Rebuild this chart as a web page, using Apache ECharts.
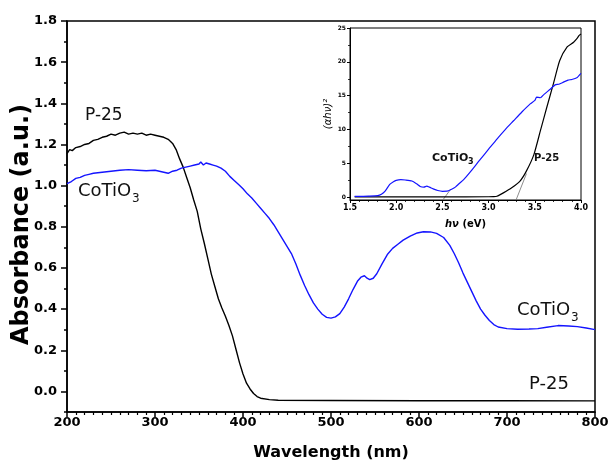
<!DOCTYPE html>
<html>
<head>
<meta charset="utf-8">
<script src="https://cdn.jsdelivr.net/npm/echarts@6/dist/echarts.min.js"></script>
<style>
  html, body { margin: 0; padding: 0; background: #fff; }
  #main { width: 609px; height: 463px; }
</style>
</head>
<body>
<div id="main"></div>
<script>
// UV-vis absorbance, P-25 vs CoTiO3, with Tauc plot inset
var p25Wl = [200, 203, 206, 210, 215, 220, 225, 230, 235, 240, 245, 250, 255, 260, 265, 270, 275, 280, 285, 290, 295, 300, 305, 310, 315, 320, 324, 328, 332, 336, 340, 344, 348, 352, 356, 360, 364, 368, 372, 376, 380, 384, 388, 392, 396, 400, 404, 408, 412, 416, 420, 430, 440, 500, 600, 700, 800];
var p25Abs = [1.155, 1.175, 1.17, 1.185, 1.19, 1.2, 1.205, 1.22, 1.225, 1.235, 1.24, 1.25, 1.245, 1.255, 1.26, 1.25, 1.255, 1.25, 1.255, 1.245, 1.25, 1.245, 1.24, 1.235, 1.225, 1.205, 1.175, 1.13, 1.09, 1.04, 0.99, 0.93, 0.875, 0.79, 0.72, 0.645, 0.57, 0.51, 0.45, 0.405, 0.365, 0.32, 0.27, 0.205, 0.14, 0.085, 0.04, 0.012, -0.01, -0.025, -0.033, -0.04, -0.043, -0.044, -0.045, -0.045, -0.046];

var coWl = [200, 205, 210, 215, 220, 225, 230, 240, 250, 260, 270, 280, 290, 300, 305, 310, 315, 320, 325, 330, 335, 340, 345, 350, 352, 355, 358, 362, 366, 370, 375, 380, 385, 390, 395, 400, 405, 410, 415, 420, 425, 430, 435, 440, 445, 450, 455, 460, 465, 470, 475, 480, 485, 490, 495, 500, 505, 510, 515, 520, 525, 530, 534, 538, 541, 544, 548, 552, 558, 564, 570, 576, 582, 590, 598, 605, 613, 620, 628, 635, 640, 645, 650, 655, 660, 665, 670, 675, 680, 685, 690, 700, 712, 725, 735, 745, 758, 770, 780, 790, 800];
var coAbs = [1.01, 1.02, 1.035, 1.04, 1.05, 1.055, 1.06, 1.065, 1.07, 1.075, 1.078, 1.075, 1.072, 1.075, 1.07, 1.065, 1.06, 1.07, 1.075, 1.085, 1.09, 1.095, 1.1, 1.105, 1.115, 1.1, 1.11, 1.105, 1.1, 1.095, 1.085, 1.07, 1.045, 1.025, 1.005, 0.985, 0.96, 0.94, 0.915, 0.89, 0.865, 0.84, 0.81, 0.775, 0.74, 0.705, 0.67, 0.62, 0.565, 0.515, 0.47, 0.43, 0.4, 0.375, 0.36, 0.356, 0.362, 0.378, 0.41, 0.45, 0.495, 0.535, 0.555, 0.562, 0.55, 0.543, 0.55, 0.572, 0.62, 0.665, 0.695, 0.715, 0.735, 0.755, 0.77, 0.776, 0.775, 0.768, 0.748, 0.71, 0.67, 0.625, 0.575, 0.53, 0.485, 0.44, 0.4, 0.37, 0.345, 0.325, 0.313, 0.305, 0.302, 0.303, 0.305, 0.312, 0.32, 0.318, 0.315, 0.308, 0.3];

// inset (Tauc plot)
var insCoEv = [1.55, 1.6, 1.7, 1.8, 1.84, 1.88, 1.93, 1.97, 2.0, 2.05, 2.1, 2.17, 2.22, 2.26, 2.3, 2.33, 2.36, 2.4, 2.45, 2.5, 2.55, 2.6, 2.64, 2.68, 2.73, 2.8, 2.91, 3.0, 3.09, 3.18, 3.27, 3.36, 3.45, 3.5, 3.52, 3.56, 3.6, 3.67, 3.72, 3.76, 3.81, 3.86, 3.9, 3.96, 3.98, 4.0];
var insCoVal = [0.15, 0.15, 0.18, 0.25, 0.45, 0.9, 1.9, 2.3, 2.5, 2.6, 2.55, 2.4, 2.0, 1.6, 1.5, 1.65, 1.5, 1.25, 1.0, 0.88, 0.9, 1.2, 1.5, 2.0, 2.6, 3.7, 5.6, 7.1, 8.6, 10.0, 11.3, 12.6, 13.8, 14.3, 14.8, 14.7, 15.2, 16.0, 16.6, 16.7, 17.0, 17.3, 17.4, 17.7, 18.0, 18.3];
var insP25Ev = [1.55, 2.0, 2.5, 3.0, 3.05, 3.09, 3.16, 3.25, 3.34, 3.41, 3.49, 3.56, 3.63, 3.7, 3.77, 3.85, 3.92, 3.96, 3.98, 4.0];
var insP25Val = [0.05, 0.05, 0.05, 0.08, 0.1, 0.15, 0.65, 1.4, 2.4, 3.9, 6.3, 9.8, 13.3, 16.7, 20.2, 22.2, 22.9, 23.5, 23.9, 24.1];
var tanCoEv = [2.51, 2.59], tanCoVal = [-0.3, 1.2];
var tanP25Ev = [3.30, 3.41], tanP25Val = [-0.3, 3.5];

var yMajor = [0, 0.2, 0.4, 0.6, 0.8, 1.0, 1.2, 1.4, 1.6, 1.8];
var yMinor = [-0.1, 0.1, 0.3, 0.5, 0.7, 0.9, 1.1, 1.3, 1.5, 1.7];
var insYMajor = [0, 5, 10, 15, 20, 25];
var insYMinor = [2.5, 7.5, 12.5, 17.5, 22.5];

function pairs(xs, ys) {
  var out = [];
  for (var i = 0; i < xs.length; i++) out.push([xs[i], ys[i]]);
  return out;
}

var FONT = 'DejaVu Sans';
var chart = echarts.init(document.getElementById('main'), null, { renderer: 'canvas' });

var option = {
  animation: false,
  backgroundColor: '#fff',
  grid: [
    { left: 67, right: 14, top: 21, bottom: 51, containLabel: false, outerBoundsMode: 'none',
      show: true, borderColor: '#000', borderWidth: 1.5, backgroundColor: 'transparent' },
    { left: 350, right: 28, top: 28, bottom: 263, containLabel: false, outerBoundsMode: 'none',
      show: true, borderColor: '#000', borderWidth: 1, backgroundColor: '#fff' }
  ],
  xAxis: [{
    gridIndex: 0, type: 'value', min: 200, max: 800, interval: 100, position: 'bottom',
    name: 'Wavelength (nm)', nameLocation: 'middle', nameGap: 33,
    nameTextStyle: { fontFamily: FONT, fontWeight: 'bold', fontSize: 16, color: '#000' },
    axisLine: { show: true, onZero: false, lineStyle: { color: '#000', width: 1.5 } },
    axisTick: { show: true, inside: false, length: 5, lineStyle: { color: '#000', width: 1.5 } },
    minorTick: { show: true, splitNumber: 10, length: 3, lineStyle: { color: '#000', width: 1.2 } },
    axisLabel: { fontFamily: FONT, fontWeight: 'bold', fontSize: 13, color: '#000', margin: 4 },
    splitLine: { show: false }
  }, {
    gridIndex: 1, type: 'value', min: 1.5, max: 4.0, interval: 0.5, position: 'bottom',
    name: '{i|hν} (eV)', nameLocation: 'middle', nameGap: 19,
    nameTextStyle: { fontFamily: FONT, fontWeight: 'bold', fontSize: 10, color: '#000',
      rich: { i: { fontFamily: FONT, fontWeight: 'bold', fontStyle: 'italic', fontSize: 10, color: '#000' } } },
    axisLine: { show: true, onZero: false, lineStyle: { color: '#000', width: 1 } },
    axisTick: { show: true, length: 3, lineStyle: { color: '#000', width: 1 } },
    minorTick: { show: true, splitNumber: 5, length: 2, lineStyle: { color: '#000', width: 0.8 } },
    axisLabel: { fontFamily: FONT, fontWeight: 'bold', fontSize: 8, color: '#000', margin: 4,
      formatter: function (v) { return v.toFixed(1); } },
    splitLine: { show: false }
  }],
  yAxis: [{
    gridIndex: 0, type: 'value', min: -0.1, max: 1.8, position: 'left',
    name: 'Absorbance (a.u.)', nameLocation: 'middle', nameGap: 33, nameMoveOverlap: false,
    nameTextStyle: { fontFamily: FONT, fontWeight: 'bold', fontSize: 24, color: '#000', padding: [0, 16, 0, 0] },
    axisLine: { show: true, onZero: false, lineStyle: { color: '#000', width: 1.5 } },
    axisTick: { show: true, length: 6, customValues: yMajor, lineStyle: { color: '#000', width: 1.5 } },
    axisLabel: { fontFamily: FONT, fontWeight: 'bold', fontSize: 13, color: '#000', margin: 10,
      customValues: yMajor, formatter: function (v) { return v.toFixed(1); } },
    splitLine: { show: false }
  }, {
    gridIndex: 0, type: 'value', min: -0.1, max: 1.8, position: 'left',
    axisLine: { show: false, onZero: false },
    axisTick: { show: true, length: 3, customValues: yMinor, lineStyle: { color: '#000', width: 1.5 } },
    axisLabel: { show: false },
    splitLine: { show: false }
  }, {
    gridIndex: 1, type: 'value', min: -0.4, max: 25, position: 'left',
    name: '(αhν)²', nameLocation: 'middle', nameGap: 4,
    nameTextStyle: { fontFamily: FONT, fontStyle: 'italic', fontSize: 10, color: '#000' },
    axisLine: { show: true, onZero: false, lineStyle: { color: '#000', width: 1 } },
    axisTick: { show: true, length: 3, customValues: insYMajor, lineStyle: { color: '#000', width: 1 } },
    axisLabel: { fontFamily: FONT, fontWeight: 'bold', fontSize: 6, color: '#000', margin: 4, customValues: insYMajor },
    splitLine: { show: false }
  }, {
    gridIndex: 1, type: 'value', min: -0.4, max: 25, position: 'left',
    axisLine: { show: false, onZero: false },
    axisTick: { show: true, length: 2, customValues: insYMinor, lineStyle: { color: '#000', width: 0.8 } },
    axisLabel: { show: false },
    splitLine: { show: false }
  }],
  series: [{
    name: 'P-25', type: 'line', xAxisIndex: 0, yAxisIndex: 0, symbol: 'none',
    lineStyle: { color: '#000', width: 1.4 }, data: pairs(p25Wl, p25Abs)
  }, {
    name: 'CoTiO3', type: 'line', xAxisIndex: 0, yAxisIndex: 0, symbol: 'none',
    lineStyle: { color: '#1414ff', width: 1.4 }, data: pairs(coWl, coAbs)
  }, {
    name: 'CoTiO3 tangent', type: 'line', xAxisIndex: 1, yAxisIndex: 2, symbol: 'none',
    lineStyle: { color: '#707070', width: 0.8 }, data: pairs(tanCoEv, tanCoVal)
  }, {
    name: 'P-25 tangent', type: 'line', xAxisIndex: 1, yAxisIndex: 2, symbol: 'none',
    lineStyle: { color: '#707070', width: 0.8 }, data: pairs(tanP25Ev, tanP25Val)
  }, {
    name: 'P-25 inset', type: 'line', xAxisIndex: 1, yAxisIndex: 2, symbol: 'none', smooth: 0.2,
    lineStyle: { color: '#000', width: 1.2 }, data: pairs(insP25Ev, insP25Val)
  }, {
    name: 'CoTiO3 inset', type: 'line', xAxisIndex: 1, yAxisIndex: 2, symbol: 'none', smooth: 0.2,
    lineStyle: { color: '#1414ff', width: 1.2 }, data: pairs(insCoEv, insCoVal)
  }],
  graphic: [
    { type: 'text', x: 85, y: 116, style: { text: 'P-25', font: '17px "DejaVu Sans"', fill: '#111', verticalAlign: 'middle' } },
    { type: 'text', x: 78, y: 191, style: { text: 'CoTiO', font: '18px "DejaVu Sans"', fill: '#111', verticalAlign: 'middle' } },
    { type: 'text', x: 132, y: 199, style: { text: '3', font: '12px "DejaVu Sans"', fill: '#111', verticalAlign: 'middle' } },
    { type: 'text', x: 517, y: 310, style: { text: 'CoTiO', font: '18px "DejaVu Sans"', fill: '#111', verticalAlign: 'middle' } },
    { type: 'text', x: 571, y: 318, style: { text: '3', font: '12px "DejaVu Sans"', fill: '#111', verticalAlign: 'middle' } },
    { type: 'text', x: 529, y: 384, style: { text: 'P-25', font: '18px "DejaVu Sans"', fill: '#111', verticalAlign: 'middle' } },
    { type: 'text', x: 432, y: 158, style: { text: 'CoTiO', font: 'bold 11px "DejaVu Sans"', fill: '#111', verticalAlign: 'middle' } },
    { type: 'text', x: 468, y: 162, style: { text: '3', font: 'bold 8px "DejaVu Sans"', fill: '#111', verticalAlign: 'middle' } },
    { type: 'text', x: 534, y: 158, style: { text: 'P-25', font: 'bold 10px "DejaVu Sans"', fill: '#111', verticalAlign: 'middle' } }
  ]
};
chart.setOption(option);
</script>
</body>
</html>
